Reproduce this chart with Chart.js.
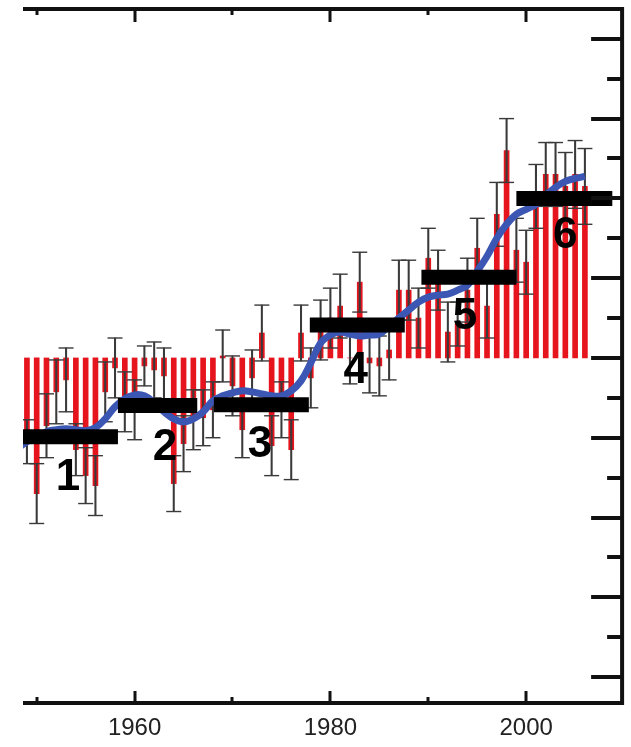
<!DOCTYPE html>
<html>
<head>
<meta charset="utf-8">
<script src="https://cdn.jsdelivr.net/npm/chart.js@4.4.1/dist/chart.umd.min.js"></script>
<style>
  html, body { margin: 0; padding: 0; background: #fff; }
  canvas { display: block; }
</style>
</head>
<body>
<canvas id="chart" width="631" height="747"></canvas>
<script>
// ---- data (anomaly units, one minor tick = 0.1) ----
const years = [
  1949, 1950, 1951, 1952, 1953, 1954, 1955, 1956, 1957, 1958,
  1959, 1960, 1961, 1962, 1963, 1964, 1965, 1966, 1967, 1968,
  1969, 1970, 1971, 1972, 1973, 1974, 1975, 1976, 1977, 1978,
  1979, 1980, 1981, 1982, 1983, 1984, 1985, 1986, 1987, 1988,
  1989, 1990, 1991, 1992, 1993, 1994, 1995, 1996, 1997, 1998,
  1999, 2000, 2001, 2002, 2003, 2004, 2005, 2006,
];
const barValues = [
  -0.21, -0.34, -0.17, -0.085, -0.055, -0.23, -0.295, -0.32, -0.085, -0.025,
  -0.11, -0.13, -0.02, -0.03, -0.045, -0.315, -0.215, -0.155, -0.15, -0.13,
  0.005, -0.07, -0.18, -0.05, 0.0625, -0.22, -0.13, -0.23, 0.0625, -0.05,
  0.07, 0.10, 0.13, 0.0, 0.19, -0.0125, -0.02, 0.02, 0.17, 0.17,
  0.10, 0.25, 0.195, 0.065, 0.085, 0.17, 0.275, 0.13, 0.36, 0.52,
  0.27, 0.24, 0.405, 0.46, 0.46, 0.43, 0.46, 0.43,
];
const barErrors = [
  0.055, 0.075, 0.08, 0.08, 0.08, 0.065, 0.07, 0.075, 0.075, 0.075,
  0.075, 0.075, 0.05, 0.07, 0.07, 0.07, 0.07, 0.075, 0.07, 0.07,
  0.065, 0.075, 0.07, 0.07, 0.07, 0.075, 0.07, 0.075, 0.07, 0.075,
  0.075, 0.075, 0.08, 0.065, 0.075, 0.075, 0.075, 0.075, 0.075, 0.075,
  0.075, 0.075, 0.075, 0.075, 0.055, 0.08, 0.075, 0.08, 0.08, 0.08,
  0.08, 0.08, 0.08, 0.08, 0.08, 0.085, 0.085, 0.095,
];

// smoothed curve
const curveYears = [
  1948, 1949, 1950, 1951, 1952, 1953, 1954, 1955, 1956, 1957, 1958,
  1959, 1960, 1961, 1962, 1963, 1964, 1965, 1966, 1967, 1968,
  1969, 1970, 1971, 1972, 1973, 1974, 1975, 1976, 1977, 1978,
  1979, 1980, 1981, 1982, 1983, 1984, 1985, 1986, 1987, 1988,
  1989, 1990, 1991, 1992, 1993, 1994, 1995, 1996, 1997, 1998,
  1999, 2000, 2001, 2002, 2003, 2004, 2005, 2006,
];
const curveValues = [
  -0.2275, -0.21, -0.1975, -0.185, -0.18, -0.1775, -0.18, -0.1825, -0.175, -0.1525, -0.1225,
  -0.1025, -0.0925, -0.095, -0.1125, -0.135, -0.1525, -0.16, -0.1525, -0.135, -0.1075,
  -0.095, -0.0875, -0.0825, -0.085, -0.09, -0.095, -0.095, -0.0825, -0.0575, -0.0125,
  0.0375, 0.0575, 0.065, 0.06, 0.055, 0.0575, 0.06, 0.08, 0.10, 0.12,
  0.14, 0.1525, 0.1575, 0.16, 0.17, 0.1825, 0.2175, 0.255, 0.30, 0.335,
  0.36, 0.3725, 0.385, 0.4075, 0.4275, 0.4425, 0.45, 0.455,
];

// period means (black steps) and their labels
const segStart = [1946.0, 1958.3, 1968.1, 1977.9, 1989.3, 1999.0];
const segEnd   = [1958.3, 1966.4, 1977.8, 1987.6, 1999.0, 2008.8];
const segLevel = [-0.1975, -0.119, -0.1175, 0.0825, 0.2025, 0.40];
const segLabels = ['1', '2', '3', '4', '5', '6'];
const labelX = [1953.2, 1963.1, 1972.8, 1982.6, 1993.75, 2004.0];
const labelY = [-0.30, -0.225, -0.2175, -0.0325, 0.1025, 0.305];

// axes
const xMin = 1948.6, xMax = 2009.8;
const yMin = -0.865, yMax = 0.875;
const xMajorTicks = [1960, 1980, 2000];
const xMinorTicks = [1950, 1970, 1990];
const xTickLabels = ['1960', '1980', '2000'];
const yMajorTicks = [-0.8, -0.6, -0.4, -0.2, 0, 0.2, 0.4, 0.6, 0.8];
const yMinorTicks = [-0.7, -0.5, -0.3, -0.1, 0.1, 0.3, 0.5, 0.7];

// ---- datasets ----
const barData = years.map((yr, i) => ({ x: yr, y: barValues[i] }));
const whiskerData = years.map((yr, i) => ({ x: yr, y: [barValues[i] - barErrors[i], barValues[i] + barErrors[i]] }));
const capData = [];
years.forEach((yr, i) => {
  capData.push({ x: yr, y: barValues[i] - barErrors[i] });
  capData.push({ x: yr, y: barValues[i] + barErrors[i] });
});
const curveData = curveYears.map((yr, i) => ({ x: yr, y: curveValues[i] }));

const datasets = [
  {
    type: 'bar', data: barData, order: 6, grouped: false,
    backgroundColor: '#e5141d', barThickness: 5, borderWidth: 0,
  },
  {
    type: 'bar', data: whiskerData, order: 5, grouped: false,
    backgroundColor: '#3a3a3a', barThickness: 1.4, borderWidth: 0,
  },
  {
    type: 'scatter', data: capData, order: 5,
    pointStyle: 'line', pointRadius: 7.5, pointHoverRadius: 7.5,
    borderColor: '#3a3a3a', pointBorderWidth: 1.4, showLine: false,
  },
  {
    type: 'line', data: curveData, order: 2, clip: 0,
    borderColor: '#3b56b3', borderWidth: 7, tension: 0.4,
    pointRadius: 0, fill: false,
  },
];
segLevel.forEach((lvl, i) => {
  datasets.push({
    type: 'line', order: 1, clip: 0,
    data: [{ x: segStart[i], y: lvl }, { x: segEnd[i], y: lvl }],
    borderColor: '#000', borderWidth: 15, borderCapStyle: 'butt',
    pointRadius: 0, fill: false,
  });
});

// frame, inward ticks, year labels and period numbers
const framePlugin = {
  id: 'frame',
  afterDatasetsDraw(chart) {
    const { ctx } = chart;
    const xs = chart.scales.x, ys = chart.scales.y;
    ctx.save();
    ctx.fillStyle = '#000';
    ctx.font = 'bold 44px "Liberation Sans", Arial, sans-serif';
    ctx.textAlign = 'center';
    ctx.textBaseline = 'middle';
    segLabels.forEach((t, i) => {
      ctx.fillText(t, xs.getPixelForValue(labelX[i]), ys.getPixelForValue(labelY[i]));
    });
    ctx.restore();
  },
  afterDraw(chart) {
    const { ctx, chartArea: a } = chart;
    const xs = chart.scales.x, ys = chart.scales.y;
    ctx.save();
    ctx.strokeStyle = '#111';
    ctx.lineCap = 'butt';

    // axis lines
    ctx.lineWidth = 4;
    ctx.beginPath();
    ctx.moveTo(a.left, a.top); ctx.lineTo(a.right + 2, a.top);
    ctx.moveTo(a.right, a.top - 2); ctx.lineTo(a.right, a.bottom + 2);
    ctx.moveTo(a.left, a.bottom); ctx.lineTo(a.right + 2, a.bottom);
    ctx.stroke();

    // x ticks (top pointing down, bottom pointing up)
    ctx.lineWidth = 3;
    ctx.beginPath();
    xMajorTicks.forEach((v) => {
      const px = Math.round(xs.getPixelForValue(v));
      ctx.moveTo(px, a.top); ctx.lineTo(px, a.top + 13);
      ctx.moveTo(px, a.bottom); ctx.lineTo(px, a.bottom - 12);
    });
    xMinorTicks.forEach((v) => {
      const px = Math.round(xs.getPixelForValue(v));
      ctx.moveTo(px, a.top); ctx.lineTo(px, a.top + 6);
      ctx.moveTo(px, a.bottom); ctx.lineTo(px, a.bottom - 6);
    });
    ctx.stroke();

    // y ticks on the right axis, pointing left
    ctx.lineWidth = 4;
    ctx.beginPath();
    yMajorTicks.forEach((v) => {
      const py = Math.round(ys.getPixelForValue(v));
      ctx.moveTo(a.right, py); ctx.lineTo(a.right - 31, py);
    });
    yMinorTicks.forEach((v) => {
      const py = Math.round(ys.getPixelForValue(v));
      ctx.moveTo(a.right, py); ctx.lineTo(a.right - 15, py);
    });
    ctx.stroke();

    // year labels
    ctx.fillStyle = '#222';
    ctx.font = '24px "Liberation Sans", Arial, sans-serif';
    ctx.textAlign = 'center';
    ctx.textBaseline = 'middle';
    xMajorTicks.forEach((v, i) => {
      ctx.fillText(xTickLabels[i], xs.getPixelForValue(v), a.bottom + 25);
    });
    ctx.restore();
  },
};

new Chart(document.getElementById('chart'), {
  type: 'bar',
  data: { datasets },
  options: {
    responsive: false,
    animation: false,
    devicePixelRatio: 1,
    events: [],
    layout: { padding: { left: 23, right: 7, top: 7, bottom: 44 } },
    plugins: { legend: { display: false }, tooltip: { enabled: false } },
    scales: {
      x: { type: 'linear', min: xMin, max: xMax, offset: false, display: false },
      y: { type: 'linear', min: yMin, max: yMax, display: false },
    },
  },
  plugins: [framePlugin],
});
</script>
</body>
</html>
